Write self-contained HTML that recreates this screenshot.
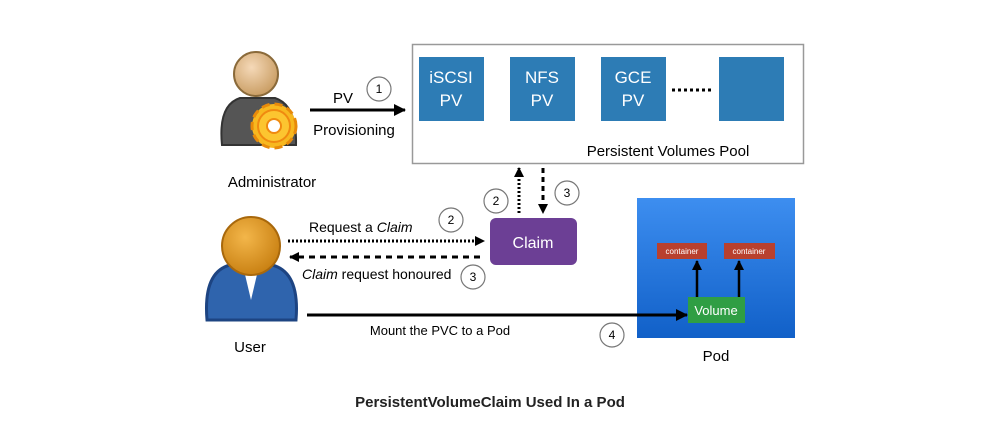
<!DOCTYPE html>
<html><head><meta charset="utf-8"><style>
html,body{margin:0;padding:0;background:#fff;}
svg{display:block;font-family:"Liberation Sans",sans-serif;}
</style></head><body>
<svg width="981" height="439" viewBox="0 0 981 439" xmlns="http://www.w3.org/2000/svg">
<defs>
<marker id="ah" markerWidth="10" markerHeight="10" refX="9" refY="5" orient="auto" markerUnits="userSpaceOnUse"><path d="M0,0 L10,5 L0,10 z" fill="#000"/></marker>
<marker id="ahl" markerWidth="12" markerHeight="12" refX="11" refY="6" orient="auto" markerUnits="userSpaceOnUse"><path d="M0,0 L12,6 L0,12 z" fill="#000"/></marker>
<linearGradient id="pod" x1="0" y1="0" x2="0" y2="1"><stop offset="0" stop-color="#3d8ef0"/><stop offset="1" stop-color="#1160c8"/></linearGradient>
<radialGradient id="head" cx="0.4" cy="0.35" r="0.7"><stop offset="0" stop-color="#f5d9b8"/><stop offset="1" stop-color="#c79a5f"/></radialGradient>
<radialGradient id="uhead" cx="0.4" cy="0.35" r="0.7"><stop offset="0" stop-color="#f3b64a"/><stop offset="1" stop-color="#c77e10"/></radialGradient>
</defs>
<rect x="412.5" y="44.5" width="391" height="119" fill="#fff" stroke="#999" stroke-width="1.5"/>
<rect x="419" y="57" width="65" height="64" fill="#2d7cb5"/>
<rect x="510" y="57" width="65" height="64" fill="#2d7cb5"/>
<rect x="601" y="57" width="65" height="64" fill="#2d7cb5"/>
<rect x="719" y="57" width="65" height="64" fill="#2d7cb5"/>
<g fill="#fff" font-size="17" text-anchor="middle">
<text x="451" y="83">iSCSI</text><text x="451" y="106">PV</text>
<text x="542" y="83">NFS</text><text x="542" y="106">PV</text>
<text x="633" y="83">GCE</text><text x="633" y="106">PV</text>
</g>
<line x1="672" y1="90" x2="714" y2="90" stroke="#000" stroke-width="3" stroke-dasharray="3,3"/>
<text x="668" y="156" font-size="15" text-anchor="middle">Persistent Volumes Pool</text>
<path d="M222,145 Q218,105 240,98 L275,98 Q297,105 296,145 Z" fill="#555" stroke="#333" stroke-width="2"/>
<circle cx="256" cy="74" r="22" fill="url(#head)" stroke="#8a6a3a" stroke-width="2"/>
<circle cx="274" cy="126" r="22" fill="#f7b81f" stroke="#e88a0a" stroke-width="3" stroke-dasharray="8,5"/>
<circle cx="274" cy="126" r="16" fill="#fcc530" stroke="#f08a10" stroke-width="2"/>
<circle cx="274" cy="126" r="7" fill="#fff" stroke="#f08a10" stroke-width="2"/>
<text x="272" y="187" font-size="15" text-anchor="middle">Administrator</text>
<line x1="310" y1="110" x2="405" y2="110" stroke="#000" stroke-width="3" marker-end="url(#ahl)"/>
<text x="343" y="103" font-size="15" text-anchor="middle">PV</text>
<text x="354" y="135" font-size="15" text-anchor="middle">Provisioning</text>
<g fill="#fff" stroke="#777" stroke-width="1.2">
<circle cx="379" cy="89" r="12"/><circle cx="496" cy="201" r="12"/><circle cx="567" cy="193" r="12"/>
<circle cx="451" cy="220" r="12"/><circle cx="473" cy="277" r="12"/><circle cx="612" cy="335" r="12"/>
</g>
<g font-size="12" text-anchor="middle">
<text x="379" y="93">1</text><text x="496" y="205">2</text><text x="567" y="197">3</text>
<text x="451" y="224">2</text><text x="473" y="281">3</text><text x="612" y="339">4</text>
</g>
<line x1="519" y1="213" x2="519" y2="168" stroke="#000" stroke-width="3" stroke-dasharray="2,2" marker-end="url(#ah)"/>
<line x1="543" y1="168" x2="543" y2="213" stroke="#000" stroke-width="3" stroke-dasharray="5,4" marker-end="url(#ah)"/>
<rect x="490" y="218" width="87" height="47" rx="6" fill="#6c3f95"/>
<text x="533" y="248" font-size="16" fill="#fff" text-anchor="middle">Claim</text>
<line x1="288" y1="241" x2="484" y2="241" stroke="#000" stroke-width="3" stroke-dasharray="2,2" marker-end="url(#ah)"/>
<text x="309" y="232" font-size="14">Request a <tspan font-style="italic">Claim</tspan></text>
<line x1="480" y1="257" x2="290" y2="257" stroke="#000" stroke-width="3" stroke-dasharray="6,5" marker-end="url(#ah)"/>
<text x="302" y="279" font-size="14"><tspan font-style="italic">Claim</tspan> request honoured</text>
<path d="M207,320 Q203,272 230,265 L272,265 Q300,272 296,320 Z" fill="#2f64ad" stroke="#1d4482" stroke-width="3"/>
<path d="M243,266 L251,300 L259,266 Z" fill="#fff"/>
<circle cx="251" cy="246" r="29" fill="url(#uhead)" stroke="#a8680c" stroke-width="2"/>
<text x="250" y="352" font-size="15" text-anchor="middle">User</text>
<rect x="637" y="198" width="158" height="140" fill="url(#pod)"/>
<rect x="657" y="243" width="50" height="16" fill="#b8402e"/>
<rect x="724" y="243" width="51" height="16" fill="#b8402e"/>
<g font-size="8" fill="#fff" text-anchor="middle"><text x="682" y="254">container</text><text x="749" y="254">container</text></g>
<rect x="688" y="297" width="57" height="26" fill="#2f9e44"/>
<text x="716" y="315" font-size="13" fill="#fff" text-anchor="middle">Volume</text>
<line x1="697" y1="297" x2="697" y2="261" stroke="#000" stroke-width="2.5" marker-end="url(#ah)"/>
<line x1="739" y1="297" x2="739" y2="261" stroke="#000" stroke-width="2.5" marker-end="url(#ah)"/>
<line x1="307" y1="315" x2="687" y2="315" stroke="#000" stroke-width="3" marker-end="url(#ahl)"/>
<text x="440" y="335" font-size="13" text-anchor="middle">Mount the PVC to a Pod</text>
<text x="716" y="361" font-size="15" text-anchor="middle">Pod</text>
<text x="490" y="407" font-size="15" font-weight="bold" fill="#222" text-anchor="middle">PersistentVolumeClaim Used In a Pod</text>
</svg>
</body></html>
